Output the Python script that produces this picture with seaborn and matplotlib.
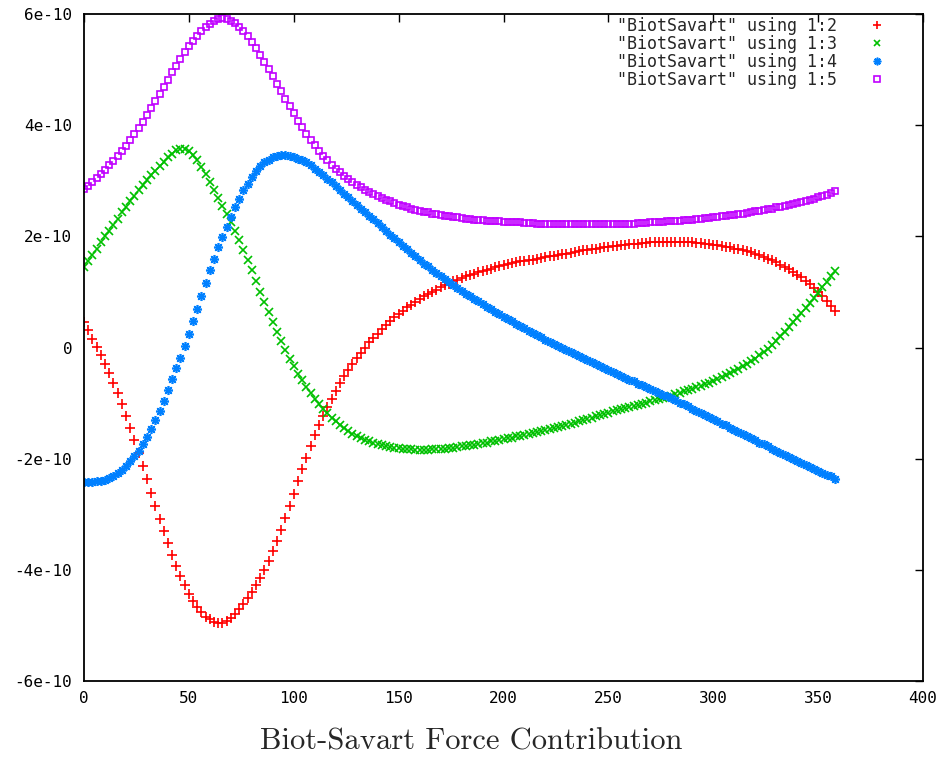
import numpy as np
import pandas as pd
import matplotlib
matplotlib.use("Agg")
import matplotlib.pyplot as plt
import seaborn as sns

# Angle in degrees and the four force columns (values in units of 1e-10)
angle = list(range(0, 360, 2))

bs_12 = [
    0.45, 0.31, 0.16, 0.01, -0.14, -0.30, -0.46, -0.63, -0.81, -1.02,
    -1.23, -1.45, -1.67, -1.90, -2.13, -2.37, -2.61, -2.85, -3.08, -3.31,
    -3.52, -3.73, -3.93, -4.11, -4.28, -4.43, -4.56, -4.67, -4.76, -4.84,
    -4.89, -4.93, -4.95, -4.95, -4.92, -4.87, -4.80, -4.71, -4.61, -4.50,
    -4.39, -4.27, -4.14, -4.01, -3.85, -3.67, -3.48, -3.28, -3.07, -2.85,
    -2.63, -2.41, -2.19, -1.98, -1.77, -1.58, -1.40, -1.23, -1.07, -0.92,
    -0.78, -0.64, -0.52, -0.40, -0.29, -0.19, -0.09, 0.00, 0.09, 0.17,
    0.25, 0.33, 0.40, 0.47, 0.54, 0.60, 0.66, 0.72, 0.77, 0.82,
    0.87, 0.92, 0.96, 1.00, 1.04, 1.08, 1.12, 1.15, 1.19, 1.22,
    1.25, 1.28, 1.31, 1.33, 1.36, 1.38, 1.40, 1.42, 1.44, 1.46,
    1.48, 1.50, 1.52, 1.53, 1.55, 1.56, 1.57, 1.58, 1.60, 1.61,
    1.62, 1.64, 1.65, 1.66, 1.68, 1.69, 1.70, 1.72, 1.73, 1.75,
    1.76, 1.77, 1.78, 1.79, 1.80, 1.81, 1.82, 1.83, 1.84, 1.85,
    1.86, 1.86, 1.87, 1.88, 1.88, 1.89, 1.89, 1.90, 1.90, 1.90,
    1.90, 1.90, 1.90, 1.90, 1.89, 1.89, 1.88, 1.88, 1.87, 1.86,
    1.85, 1.84, 1.83, 1.81, 1.80, 1.78, 1.77, 1.75, 1.73, 1.71,
    1.69, 1.66, 1.63, 1.60, 1.57, 1.53, 1.49, 1.45, 1.41, 1.36,
    1.31, 1.26, 1.20, 1.14, 1.07, 1.00, 0.92, 0.84, 0.75, 0.65,
]

bs_13 = [
    1.45, 1.56, 1.67, 1.78, 1.89, 2.00, 2.10, 2.21, 2.32, 2.43,
    2.53, 2.63, 2.73, 2.83, 2.92, 3.01, 3.10, 3.18, 3.26, 3.34,
    3.42, 3.49, 3.55, 3.58, 3.57, 3.53, 3.46, 3.37, 3.25, 3.12,
    2.98, 2.84, 2.69, 2.54, 2.40, 2.26, 2.10, 1.93, 1.76, 1.58,
    1.40, 1.20, 1.00, 0.81, 0.63, 0.45, 0.28, 0.11, -0.05, -0.20,
    -0.34, -0.47, -0.59, -0.71, -0.82, -0.92, -1.01, -1.10, -1.18, -1.26,
    -1.33, -1.39, -1.45, -1.50, -1.55, -1.59, -1.63, -1.66, -1.69, -1.72,
    -1.74, -1.76, -1.78, -1.79, -1.80, -1.81, -1.82, -1.83, -1.83, -1.84,
    -1.84, -1.84, -1.84, -1.83, -1.83, -1.82, -1.82, -1.81, -1.80, -1.79,
    -1.78, -1.77, -1.76, -1.75, -1.73, -1.72, -1.71, -1.69, -1.68, -1.66,
    -1.65, -1.63, -1.62, -1.60, -1.59, -1.57, -1.55, -1.53, -1.52, -1.50,
    -1.48, -1.46, -1.44, -1.43, -1.41, -1.39, -1.37, -1.35, -1.33, -1.30,
    -1.28, -1.26, -1.24, -1.21, -1.19, -1.17, -1.15, -1.13, -1.11, -1.09,
    -1.07, -1.05, -1.03, -1.01, -0.99, -0.97, -0.95, -0.93, -0.91, -0.89,
    -0.87, -0.84, -0.82, -0.79, -0.77, -0.74, -0.71, -0.69, -0.66, -0.63,
    -0.60, -0.57, -0.53, -0.50, -0.46, -0.42, -0.38, -0.34, -0.29, -0.25,
    -0.20, -0.14, -0.08, -0.02, 0.05, 0.12, 0.20, 0.28, 0.36, 0.45,
    0.53, 0.62, 0.71, 0.80, 0.89, 0.98, 1.08, 1.18, 1.28, 1.38,
]

bs_14 = [
    -2.42, -2.42, -2.42, -2.41, -2.40, -2.38, -2.35, -2.31, -2.26, -2.20,
    -2.13, -2.05, -1.96, -1.86, -1.74, -1.61, -1.47, -1.31, -1.14, -0.96,
    -0.77, -0.57, -0.37, -0.18, 0.02, 0.24, 0.47, 0.70, 0.93, 1.16,
    1.39, 1.60, 1.80, 1.99, 2.17, 2.35, 2.52, 2.68, 2.83, 2.95,
    3.06, 3.17, 3.26, 3.33, 3.38, 3.42, 3.45, 3.46, 3.46, 3.45,
    3.43, 3.40, 3.37, 3.33, 3.28, 3.22, 3.16, 3.10, 3.04, 2.97,
    2.90, 2.83, 2.77, 2.70, 2.63, 2.57, 2.50, 2.44, 2.37, 2.31,
    2.24, 2.17, 2.10, 2.03, 1.97, 1.90, 1.83, 1.77, 1.70, 1.64,
    1.57, 1.51, 1.46, 1.40, 1.34, 1.29, 1.23, 1.18, 1.12, 1.07,
    1.02, 0.97, 0.92, 0.87, 0.83, 0.78, 0.73, 0.69, 0.64, 0.60,
    0.55, 0.51, 0.47, 0.43, 0.39, 0.35, 0.30, 0.26, 0.22, 0.18,
    0.14, 0.10, 0.07, 0.03, -0.01, -0.05, -0.08, -0.12, -0.16, -0.19,
    -0.23, -0.26, -0.30, -0.34, -0.37, -0.41, -0.44, -0.48, -0.51, -0.55,
    -0.58, -0.61, -0.65, -0.68, -0.71, -0.75, -0.78, -0.81, -0.85, -0.88,
    -0.91, -0.95, -0.99, -1.02, -1.06, -1.10, -1.14, -1.17, -1.21, -1.25,
    -1.29, -1.33, -1.37, -1.40, -1.44, -1.48, -1.52, -1.56, -1.59, -1.63,
    -1.67, -1.71, -1.74, -1.78, -1.82, -1.86, -1.89, -1.93, -1.97, -2.00,
    -2.04, -2.08, -2.11, -2.15, -2.18, -2.22, -2.25, -2.29, -2.32, -2.36,
]

bs_15 = [
    2.85, 2.91, 2.98, 3.05, 3.12, 3.20, 3.28, 3.36, 3.45, 3.54,
    3.63, 3.73, 3.84, 3.95, 4.06, 4.18, 4.30, 4.43, 4.56, 4.69,
    4.82, 4.95, 5.07, 5.19, 5.31, 5.42, 5.52, 5.61, 5.69, 5.76,
    5.82, 5.87, 5.91, 5.92, 5.91, 5.88, 5.83, 5.77, 5.69, 5.60,
    5.50, 5.39, 5.27, 5.14, 5.01, 4.88, 4.74, 4.61, 4.47, 4.34,
    4.21, 4.08, 3.96, 3.85, 3.74, 3.64, 3.54, 3.45, 3.37, 3.29,
    3.22, 3.15, 3.09, 3.03, 2.98, 2.93, 2.88, 2.84, 2.80, 2.76,
    2.72, 2.69, 2.66, 2.63, 2.60, 2.56, 2.54, 2.52, 2.50, 2.48,
    2.46, 2.44, 2.43, 2.41, 2.40, 2.38, 2.37, 2.36, 2.35, 2.34,
    2.33, 2.32, 2.31, 2.30, 2.30, 2.29, 2.28, 2.28, 2.27, 2.27,
    2.26, 2.26, 2.25, 2.25, 2.25, 2.24, 2.24, 2.24, 2.23, 2.23,
    2.23, 2.23, 2.22, 2.22, 2.22, 2.22, 2.22, 2.22, 2.22, 2.22,
    2.22, 2.22, 2.22, 2.22, 2.22, 2.22, 2.22, 2.23, 2.23, 2.23,
    2.23, 2.23, 2.24, 2.24, 2.24, 2.25, 2.25, 2.26, 2.26, 2.27,
    2.27, 2.28, 2.28, 2.29, 2.30, 2.30, 2.31, 2.32, 2.33, 2.33,
    2.34, 2.35, 2.36, 2.37, 2.38, 2.39, 2.40, 2.41, 2.42, 2.43,
    2.45, 2.46, 2.47, 2.49, 2.50, 2.52, 2.53, 2.55, 2.57, 2.58,
    2.60, 2.62, 2.64, 2.66, 2.68, 2.70, 2.72, 2.75, 2.78, 2.81,
]

unit = 1e-10

series_labels = [
    '"BiotSavart" using 1:2',
    '"BiotSavart" using 1:3',
    '"BiotSavart" using 1:4',
    '"BiotSavart" using 1:5',
]
series_colors = ["#ff0000", "#00c000", "#0080ff", "#c000ff"]
series_markers = ["+", "x", (8, 2, 0), "s"]
series_sizes = [6.5, 5.5, 6.5, 4.5]

x_ticks = [0, 50, 100, 150, 200, 250, 300, 350, 400]
y_tick_values = [-6e-10, -4e-10, -2e-10, 0.0, 2e-10, 4e-10, 6e-10]
y_tick_labels = ["-6e-10", "-4e-10", "-2e-10", "0", "2e-10", "4e-10", "6e-10"]
caption = "Biot-Savart Force Contribution"

# Long-form table built from the columns above
frames = []
for label, values in zip(series_labels, [bs_12, bs_13, bs_14, bs_15]):
    frames.append(pd.DataFrame({
        "angle": angle,
        "force": np.asarray(values) * unit,
        "series": label,
    }))
data = pd.concat(frames, ignore_index=True)

sns.set_style("white")
plt.rcParams["font.family"] = ["DejaVu Sans Mono", "DejaVu Sans"]
tick_font = 11.5
legend_font = 12

W, H = 946, 762
fig = plt.figure(figsize=(W / 100, H / 100), dpi=100)
ax = fig.add_axes([84 / W, 1 - 681 / H, (923 - 84) / W, (681 - 14) / H])

for label, color, marker, size in zip(series_labels, series_colors,
                                      series_markers, series_sizes):
    sub = data[data["series"] == label]
    sns.lineplot(data=sub, x="angle", y="force", ax=ax, estimator=None,
                 sort=False, linestyle="none", marker=marker,
                 markersize=size, markeredgewidth=1.2,
                 markerfacecolor="none", markeredgecolor=color,
                 color=color, label=label)

ax.set_xlim(0, 400)
ax.set_ylim(-6e-10, 6e-10)
ax.set_xticks(x_ticks)
ax.set_xticklabels([str(t) for t in x_ticks])
ax.set_yticks(y_tick_values)
ax.set_yticklabels(y_tick_labels)
ax.set_xlabel("")
ax.set_ylabel("")

for spine in ax.spines.values():
    spine.set_visible(True)
    spine.set_color("black")
    spine.set_linewidth(1.3)

ax.tick_params(axis="both", direction="in", length=6, width=1.0,
               top=True, right=True, labelsize=tick_font, colors="black")
ax.tick_params(axis="y", pad=8.5)
ax.tick_params(axis="x", pad=7)

ax.legend(loc="upper right", bbox_to_anchor=(0.955, 0.996),
          markerfirst=False, frameon=False, borderaxespad=0,
          borderpad=0, handlelength=1.0, handletextpad=1.9,
          labelspacing=0.0, markerscale=0.85,
          prop={"family": "DejaVu Sans Mono", "size": legend_font})

fig.text(0.498, 1 - 742 / H, caption, ha="center", va="center",
         family="cmr10", fontsize=22)

fig.savefig("out.png", dpi=100)
